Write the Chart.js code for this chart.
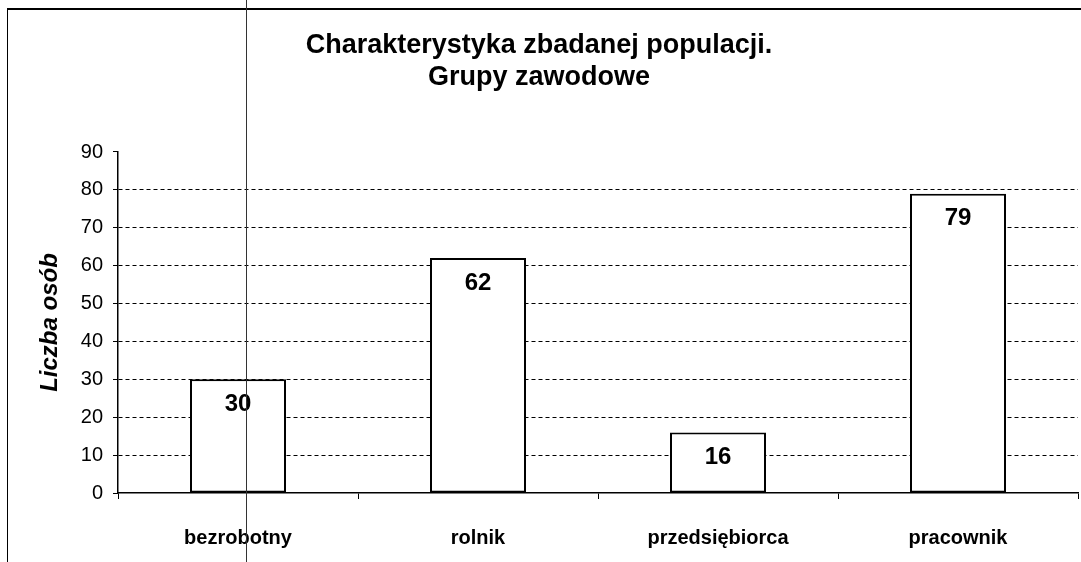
<!DOCTYPE html>
<html>
<head>
<meta charset="utf-8">
<script src="https://cdn.jsdelivr.net/npm/chart.js@4"></script>
<style>
    body { margin: 0; background: #fff; }
    #wrap { position: relative; width: 1081px; height: 562px; }
    #frame { position: absolute; left: 7px; top: 8px; right: 0; bottom: 0;
             border-top: 2px solid #000; border-left: 1px solid #000; pointer-events: none; }
    #scanLine { position: absolute; left: 246px; top: 0; width: 1px; height: 562px; background: #333; }
</style>
</head>
<body>
<div id="wrap">
    <canvas id="groupChart" width="1081" height="562"></canvas>
    <div id="frame"></div>
    <div id="scanLine"></div>
</div>
<script>
const categories = ['bezrobotny', 'rolnik', 'przedsiębiorca', 'pracownik'];
const personCounts = [30, 62, 16, 79];
const titleLines = ['Charakterystyka zbadanej populacji.', 'Grupy zawodowe'];
const yAxisTitle = 'Liczba osób';

const fontName = '"Liberation Sans", Arial, sans-serif';

// draws the value inside each bar, just under its top edge
const barValues = {
    id: 'barValues',
    afterDatasetsDraw(chart) {
        const ctx = chart.ctx;
        const meta = chart.getDatasetMeta(0);
        ctx.save();
        ctx.font = 'bold 24px ' + fontName;
        ctx.fillStyle = '#000';
        ctx.textAlign = 'center';
        ctx.textBaseline = 'middle';
        meta.data.forEach((bar, i) => {
            ctx.fillText(String(chart.data.datasets[0].data[i]), bar.x, bar.y + 25);
        });
        ctx.restore();
    }
};

const ctx = document.getElementById('groupChart');
new Chart(ctx, {
    type: 'bar',
    data: {
        labels: categories,
        datasets: [{
            label: yAxisTitle,
            data: personCounts,
            backgroundColor: '#fff',
            borderColor: '#000',
            borderWidth: 2,
            borderSkipped: false,
            categoryPercentage: 1,
            barPercentage: 0.4
        }]
    },
    options: {
        responsive: false,
        animation: false,
        layout: { padding: { left: 0, right: 3, top: 0, bottom: 0 } },
        plugins: {
            legend: { display: false },
            tooltip: { enabled: false },
            title: {
                display: true,
                text: titleLines,
                color: '#000',
                font: { family: fontName, size: 27, weight: 'bold', lineHeight: 1.185 },
                padding: { top: 30, bottom: 58 }
            }
        },
        scales: {
            y: {
                min: 0,
                max: 90,
                ticks: {
                    stepSize: 10,
                    color: '#000',
                    padding: 10,
                    font: { family: fontName, size: 20 }
                },
                grid: {
                    color: (c) => (c.tick && (c.tick.value === 0 || c.tick.value === 90)) ? 'rgba(0,0,0,0)' : '#000',
                    tickColor: '#000',
                    tickLength: 5,
                    lineWidth: 1
                },
                border: { display: true, color: '#000', width: 1.5, dash: [4, 3] },
                title: {
                    display: true,
                    text: yAxisTitle,
                    color: '#000',
                    font: { family: fontName, size: 24, weight: 'bold', style: 'italic' },
                    padding: { top: 36, bottom: 0 }
                },
                afterFit(scale) { scale.width = 118; }
            },
            x: {
                ticks: {
                    color: '#000',
                    padding: 27,
                    font: { family: fontName, size: 20, weight: 'bold' }
                },
                grid: {
                    offset: true,
                    drawOnChartArea: false,
                    drawTicks: true,
                    tickLength: 6,
                    tickColor: '#000'
                },
                border: { display: true, color: '#000', width: 1.5 },
                afterFit(scale) { scale.height = 69; }
            }
        }
    },
    plugins: [barValues]
});
</script>
</body>
</html>
